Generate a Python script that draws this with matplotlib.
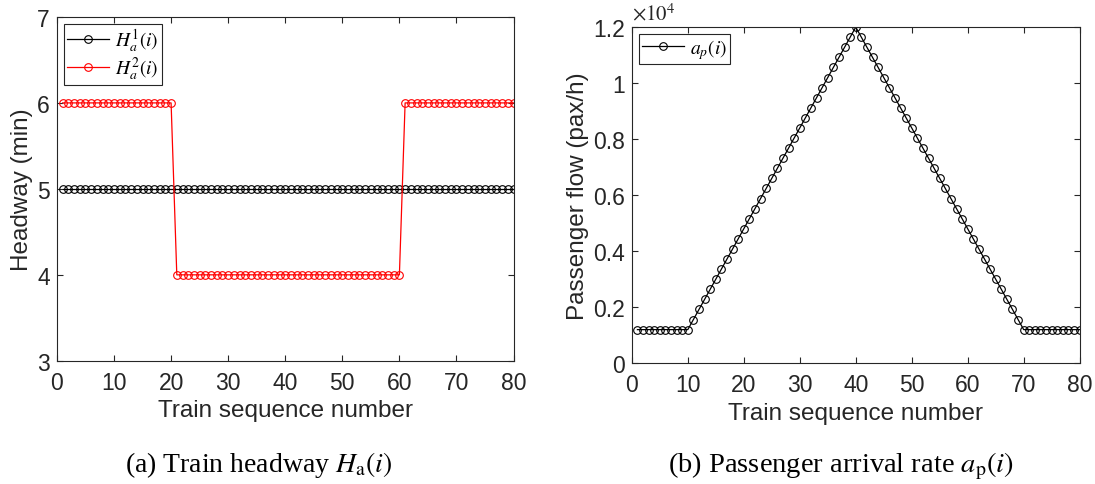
import numpy as np
import matplotlib
matplotlib.use("Agg")
import matplotlib.pyplot as plt

plt.rcParams['font.family'] = ['Liberation Sans', 'DejaVu Sans']
plt.rcParams['mathtext.fontset'] = 'stix'

# train index
train = list(range(1, 81))
# headway scenarios (min)
H1 = [5] * 80
H2 = [6] * 20 + [4] * 40 + [6] * 20
# passenger arrival rate (pax/h)
ap = ([1200] * 10 +
      [1560, 1920, 2280, 2640, 3000, 3360, 3720, 4080, 4440, 4800,
       5160, 5520, 5880, 6240, 6600, 6960, 7320, 7680, 8040, 8400,
       8760, 9120, 9480, 9840, 10200, 10560, 10920, 11280, 11640, 12000,
       11640, 11280, 10920, 10560, 10200, 9840, 9480, 9120, 8760, 8400,
       8040, 7680, 7320, 6960, 6600, 6240, 5880, 5520, 5160, 4800,
       4440, 4080, 3720, 3360, 3000, 2640, 2280, 1920, 1560, 1200] +
      [1200] * 10)

axcol = '#262626'
fig = plt.figure(figsize=(10.95, 4.85), dpi=100)
ax1 = fig.add_axes([0.052, 0.254, 0.417, 0.709])
ax2 = fig.add_axes([0.577, 0.249, 0.409, 0.693])

def style(ax):
    for s in ax.spines.values():
        s.set_color(axcol)
        s.set_linewidth(0.8)
    ax.tick_params(direction='in', length=4, width=0.8, colors=axcol,
                   labelsize=16.5, top=True, right=True, labeltop=False, labelright=False)
    ax.tick_params(axis='x', pad=7)
    ax.tick_params(axis='y', pad=5)
    ax.set_xlim(0, 80)
    ax.set_xticks(range(0, 81, 10))
    ax.set_xlabel('Train sequence number', fontsize=17.5, color=axcol, labelpad=4)

mk = dict(marker='o', markersize=5.5, markerfacecolor='none', linewidth=0.9, markeredgewidth=0.8)
ax1.plot(train, H1, color='black', label=r'$H_a^1(i)$', **mk)
ax1.plot(train, H2, color='red', label=r'$H_a^2(i)$', **mk)
style(ax1)
ax1.set_ylim(3, 7)
ax1.set_yticks([3, 4, 5, 6, 7])
ax1.set_ylabel('Headway (min)', fontsize=17.5, color=axcol, labelpad=3)
leg = ax1.legend(loc='upper left', fontsize=14, fancybox=False, framealpha=1,
                 edgecolor=axcol, borderaxespad=0.35, handlelength=2.2,
                 borderpad=0.15, labelspacing=0.05, handletextpad=0.3)
leg.get_frame().set_linewidth(0.8)

ax2.plot(train, ap, color='black', label=r'$a_p(i)$', **mk)
style(ax2)
ax2.set_ylim(0, 12000)
ax2.set_yticks([0, 2000, 4000, 6000, 8000, 10000, 12000])
ax2.set_yticklabels(['0', '0.2', '0.4', '0.6', '0.8', '1', '1.2'])
ax2.text(0, 1.01, r'$\times10^4$', transform=ax2.transAxes, fontsize=15,
         color=axcol, family='DejaVu Sans', va='bottom', ha='left')
ax2.set_ylabel('Passenger flow (pax/h)', fontsize=17.5, color=axcol, labelpad=3)
leg2 = ax2.legend(loc='upper left', fontsize=14, fancybox=False, framealpha=1,
                  edgecolor=axcol, borderaxespad=0.35, handlelength=2.2,
                  borderpad=0.15, handletextpad=0.3)
leg2.get_frame().set_linewidth(0.8)

fig.text(0.236, 0.027, r'(a) Train headway $H_\mathrm{a}(i)$', ha='center',
         fontsize=20, family='Liberation Serif')
fig.text(0.768, 0.027, r'(b) Passenger arrival rate $a_\mathrm{p}(i)$', ha='center',
         fontsize=20.5, family='Liberation Serif')

fig.savefig('out.png', dpi=100)
